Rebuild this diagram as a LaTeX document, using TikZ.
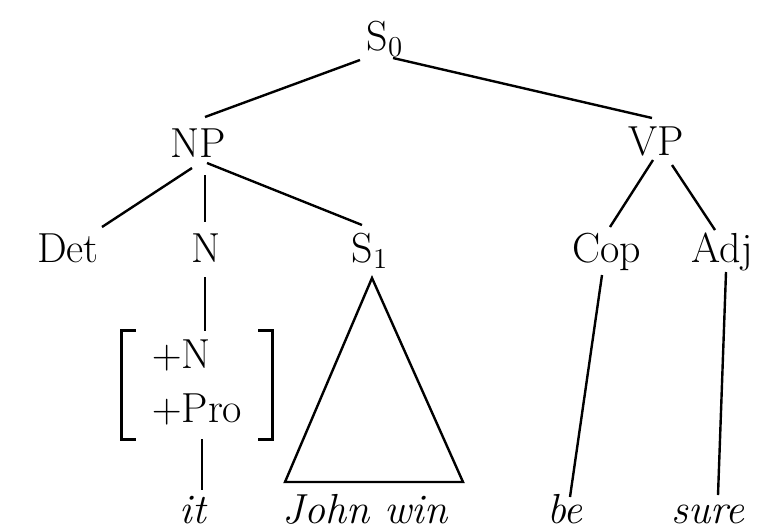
\documentclass[tikz,border=0pt]{standalone}
\usetikzlibrary{calc}
\begin{document}
\begin{tikzpicture}[x=0.5pt,y=-0.5pt,
  lbl/.style={font=\fontsize{21}{27}\selectfont, inner sep=0pt, anchor=base},
  leaf/.style={lbl, font=\fontsize{21}{27}\selectfont\itshape},
  edge/.style={line width=1.2pt},
  brk/.style={line width=1.3pt}]
\useasboundingbox (0,0) rectangle (758,530);
% nodes
\node[lbl] (S0)  at (385,50)  {S$_0$};
\node[lbl] (NP)  at (198,157) {NP};
\node[lbl] (VP)  at (656,155) {VP};
\node[lbl] (Det) at (68,262)  {Det};
\node[lbl] (N)   at (206,262) {N};
\node[lbl] (S1)  at (370,262) {S$_1$};
\node[lbl] (Cop) at (607,262) {Cop};
\node[lbl] (Adj) at (722,262) {Adj};
\node[font=\fontsize{21}{27}\selectfont, inner sep=0pt,
      minimum width=75pt, minimum height=52pt] (F) at (197,385)
  {\begin{tabular}{@{}l@{}}$+$N\\$+$Pro\end{tabular}};
\node[leaf] (it)   at (193,523) {it};
\node[leaf] (JW)   at (365,523) {John win};
\node[leaf] (be)   at (565,523) {be};
\node[leaf] (sure) at (708,523) {sure};
% brackets
\draw[brk] ($(F.north west)+(14,0)$) -- (F.north west) -- (F.south west) -- ($(F.south west)+(14,0)$);
\draw[brk] ($(F.north east)+(-14,0)$) -- (F.north east) -- (F.south east) -- ($(F.south east)+(-14,0)$);
% edges
\draw[edge] ($(S0.base)+(-25,10)$) -- ($(NP.base)+(7,-40)$);
\draw[edge] ($(S0.base)+(8,8)$) -- ($(VP.base)+(-4,-37)$);
\draw[edge] ($(NP.base)+(-6,11)$) -- ($(Det.base)+(34,-35)$);
\draw[edge] ($(NP.base)+(7,18)$) -- ($(N.base)+(-1,-40)$);
\draw[edge] ($(NP.base)+(9,6)$) -- ($(S1.base)+(-8,-37)$);
\draw[edge] ($(VP.base)+(-3,5)$) -- ($(Cop.base)+(3,-35)$);
\draw[edge] ($(VP.base)+(16,10)$) -- ($(Adj.base)+(-7,-32)$);
\draw[edge] ($(N.base)+(-1,15)$) -- ($(F.north)+(8,0)$);
\draw[edge] ($(F.south)+(5,0)$) -- ($(it.base)+(9,-33)$);
\draw[edge] ($(S1.base)+(2,16)$) -- ($(JW.base)+(-80,-41)$) -- ($(JW.base)+(98,-41)$) -- cycle;
\draw[edge] ($(Cop.base)+(-5,13)$) -- ($(be.base)+(5,-26)$);
\draw[edge] ($(Adj.base)+(4,10)$) -- ($(sure.base)+(10,-28)$);
\end{tikzpicture}
\end{document}
